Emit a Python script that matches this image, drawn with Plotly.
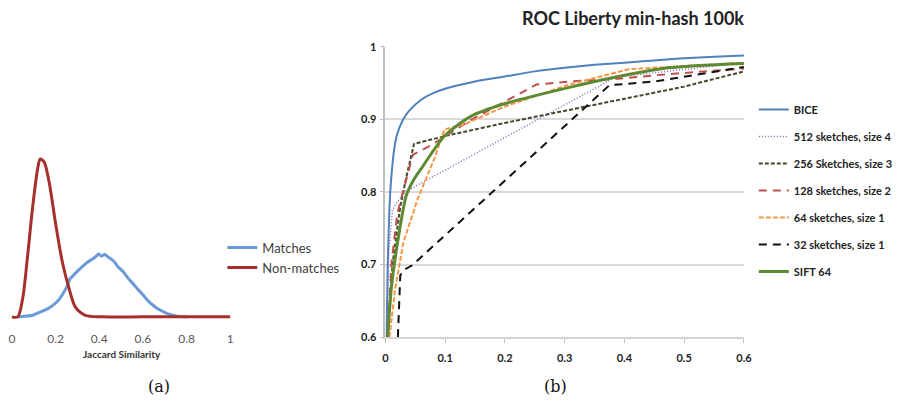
import plotly.graph_objects as go

W, H = 912, 408

# ---------- (a) Jaccard similarity distributions ----------
nonmatch_x = [0.0, 0.027, 0.05, 0.072, 0.095, 0.118, 0.13, 0.148, 0.17, 0.2, 0.231, 0.261, 0.291, 0.336, 0.412, 0.6, 0.8, 1.0]
nonmatch_y = [0.0, 0.0, 0.122, 0.388, 0.694, 0.939, 1.0, 0.98, 0.857, 0.592, 0.347, 0.184, 0.061, 0.01, 0.0, 0.0, 0.0, 0.0]

match_x = [0.027, 0.06, 0.095, 0.12, 0.14, 0.165, 0.186, 0.21, 0.231, 0.255, 0.265, 0.276, 0.3, 0.321, 0.345, 0.367, 0.385,
           0.397, 0.41, 0.425, 0.442, 0.465, 0.487, 0.51, 0.532, 0.555, 0.578, 0.6, 0.623, 0.645, 0.668, 0.69, 0.713, 0.736, 0.759, 0.804]
match_y = [0.0, 0.004, 0.01, 0.025, 0.036, 0.052, 0.071, 0.1, 0.14, 0.2, 0.24, 0.255, 0.29, 0.316, 0.345, 0.365, 0.382,
           0.398, 0.385, 0.395, 0.378, 0.355, 0.316, 0.285, 0.245, 0.21, 0.173, 0.14, 0.102, 0.075, 0.051, 0.035, 0.02, 0.01, 0.004, 0.0]

# ---------- (b) ROC curves ----------
bice_x = [0.002, 0.004, 0.007, 0.01, 0.015, 0.02, 0.03, 0.04, 0.06, 0.08, 0.1, 0.15, 0.2, 0.25, 0.3, 0.35, 0.4, 0.45, 0.5, 0.55, 0.6]
bice_y = [0.60, 0.70, 0.78, 0.82, 0.86, 0.88, 0.90, 0.912, 0.927, 0.936, 0.942, 0.952, 0.959, 0.966, 0.971, 0.975, 0.978, 0.981, 0.984, 0.986, 0.988]

s512_x = [0.003, 0.006, 0.012, 0.018, 0.033, 0.385, 0.6]
s512_y = [0.60, 0.72, 0.775, 0.784, 0.80, 0.958, 0.978]

s256_x = [0.004, 0.012, 0.025, 0.035, 0.048, 0.1, 0.2, 0.3, 0.4, 0.5, 0.6]
s256_y = [0.60, 0.70, 0.78, 0.82, 0.866, 0.877, 0.895, 0.912, 0.928, 0.945, 0.966]

s128_x = [0.004, 0.01, 0.02, 0.03, 0.046, 0.055, 0.076, 0.143, 0.203, 0.253, 0.308, 0.39, 0.47, 0.6]
s128_y = [0.60, 0.70, 0.77, 0.80, 0.851, 0.855, 0.864, 0.899, 0.926, 0.948, 0.952, 0.956, 0.962, 0.97]

s64_x = [0.007, 0.016, 0.03, 0.054, 0.082, 0.099, 0.132, 0.198, 0.308, 0.407, 0.6]
s64_y = [0.60, 0.664, 0.73, 0.79, 0.846, 0.886, 0.893, 0.917, 0.948, 0.969, 0.978]

s32_x = [0.021, 0.025, 0.03, 0.045, 0.375, 0.45, 0.6]
s32_y = [0.60, 0.685, 0.692, 0.699, 0.947, 0.952, 0.972]

sift_x = [0.004, 0.01, 0.021, 0.035, 0.047, 0.06, 0.099, 0.143, 0.198, 0.308, 0.39, 0.473, 0.6]
sift_y = [0.60, 0.667, 0.733, 0.795, 0.816, 0.832, 0.877, 0.904, 0.921, 0.944, 0.959, 0.971, 0.977]

roc_ticks_x = [0, 0.1, 0.2, 0.3, 0.4, 0.5, 0.6]
roc_ticks_y = [0.6, 0.7, 0.8, 0.9, 1.0]
jac_ticks = [0, 0.2, 0.4, 0.6, 0.8, 1]

FONT = "Lato"

fig = go.Figure()

# left panel traces
fig.add_trace(go.Scatter(x=match_x, y=match_y, mode="lines", name="Matches",
                         line=dict(color="#6A9BD6", width=3, shape="spline", smoothing=0.6),
                         xaxis="x", yaxis="y", legend="legend2"))
fig.add_trace(go.Scatter(x=nonmatch_x, y=nonmatch_y, mode="lines", name="Non-matches",
                         line=dict(color="#A8302C", width=3, shape="spline", smoothing=0.8),
                         xaxis="x", yaxis="y", legend="legend2"))

roc = [
    ("BICE", bice_x, bice_y, "#4F81BD", "solid", 2, "spline"),
    ("512 sketches, size 4", s512_x, s512_y, "#7F6AB8", "1px,2px", 1.5, "linear"),
    ("256 Sketches, size 3", s256_x, s256_y, "#3E4A2A", "4px,2px", 2, "linear"),
    ("128 sketches, size 2", s128_x, s128_y, "#C0504D", "8px,6px", 2, "linear"),
    ("64 sketches, size 1", s64_x, s64_y, "#F79646", "5px,2px", 2, "linear"),
    ("32 sketches, size 1", s32_x, s32_y, "#111111", "8px,6px", 2, "linear"),
    ("SIFT 64", sift_x, sift_y, "#5E8A32", "solid", 3, "spline"),
]
for i, (name, xs, ys, col, dash, w, shp) in enumerate(roc):
    ln = dict(color=col, dash=dash, width=w, shape=shp)
    if shp == "spline":
        ln["smoothing"] = 0.7
    fig.add_trace(go.Scatter(x=xs, y=ys, mode="lines", name=name, legendgroup=f"g{i}",
                             line=ln, xaxis="x2", yaxis="y2", legend="legend"))

def dom_x(a, b):
    return [a / W, b / W]

def dom_y(top, bottom):
    return [1 - bottom / H, 1 - top / H]

fig.update_layout(
    width=W, height=H, margin=dict(l=0, r=0, t=0, b=0),
    paper_bgcolor="white", plot_bgcolor="white",
    font=dict(family=FONT),
    xaxis=dict(domain=dom_x(6.8, 232.2), range=[-0.01, 1.01], tickvals=jac_ticks,
               ticktext=["0", "0.2", "0.4", "0.6", "0.8", "1"],
               showgrid=False, zeroline=False, showline=False, ticks="",
               tickfont=dict(family=FONT, size=12, color="#595959"), ticklabelstandoff=10),
    yaxis=dict(domain=dom_y(153.7, 323.3), range=[-0.02, 1.02], visible=False),
    xaxis2=dict(domain=dom_x(387, 750), range=[0, 0.6], tickvals=roc_ticks_x,
                ticktext=["0", "0.1", "0.2", "0.3", "0.4", "0.5", "0.6"],
                showgrid=False, zeroline=False, showline=True, linecolor="#D4D4D4", linewidth=2,
                ticks="outside", ticklen=4, tickcolor="#BFBFBF",
                tickfont=dict(family=FONT, size=11, color="#222222", weight="bold"),
                ticklabelstandoff=6, anchor="y2"),
    yaxis2=dict(domain=dom_y(41, 341), range=[0.6, 1.0], tickvals=roc_ticks_y,
                ticktext=["0.6", "0.7", "0.8", "0.9", "1"],
                showgrid=True, gridcolor="#D9D9D9", gridwidth=2, zeroline=False,
                showline=True, linecolor="#BFBFBF", linewidth=1.5,
                ticks="outside", ticklen=4, tickcolor="#BFBFBF", ticklabelstandoff=1,
                tickfont=dict(family=FONT, size=11, color="#222222", weight="bold"), anchor="x2"),
    legend=dict(x=760 / W, y=1 - 91 / H, xanchor="left", yanchor="top",
                font=dict(family=FONT, size=11, color="#222222", weight="bold"),
                tracegroupgap=8, bgcolor="rgba(0,0,0,0)", itemwidth=30),
    legend2=dict(x=222 / W, y=1 - 233 / H, xanchor="left", yanchor="top",
                 font=dict(family=FONT, size=13, color="#404040"),
                 bgcolor="rgba(0,0,0,0)", tracegroupgap=0),
    showlegend=True,
    annotations=[
        dict(text="<b>ROC Liberty min-hash 100k</b>", x=752 / W, y=1 - 11 / H, xref="paper", yref="paper",
             xanchor="right", yanchor="middle", showarrow=False, font=dict(family=FONT, size=18, color="#222222")),
        dict(text="<b>Jaccard Similarity</b>", x=120 / W, y=1 - 358 / H, xref="paper", yref="paper",
             xanchor="center", yanchor="middle", showarrow=False, font=dict(family=FONT, size=10, color="#333333")),
        dict(text="(a)", x=158 / W, y=1 - 392 / H, xref="paper", yref="paper", xanchor="center", yanchor="middle",
             showarrow=False, font=dict(family="DejaVu Serif", size=16, color="#111111")),
        dict(text="(b)", x=559 / W, y=1 - 392 / H, xref="paper", yref="paper", xanchor="center", yanchor="middle",
             showarrow=False, font=dict(family="DejaVu Serif", size=16, color="#111111")),
    ],
)

fig.write_html("out.html")
